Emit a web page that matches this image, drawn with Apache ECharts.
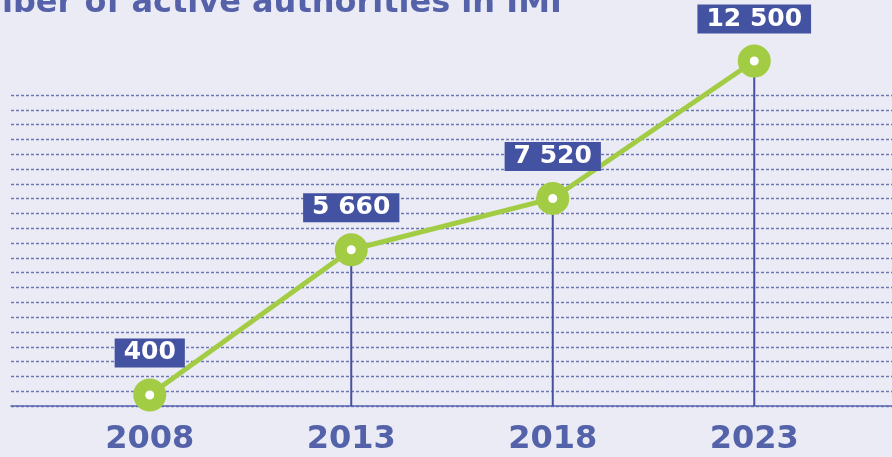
<!DOCTYPE html>
<html>
<head>
<meta charset="utf-8">
<script src="https://cdn.jsdelivr.net/npm/echarts@6/dist/echarts.min.js"></script>
<style>
  html, body { margin: 0; padding: 0; background: #ebebf5; }
  #imi_chart { width: 892px; height: 457px; }
</style>
</head>
<body>
<div id="imi_chart"></div>
<script>
var years = ['2008', '2013', '2018', '2023'];
var authorities = [400, 5660, 7520, 12500];
var guideLines = 21; // dotted decoration rows above the axis

function spaced(v) {
  return String(v).replace(/\B(?=(\d{3})+(?!\d))/g, ' ');
}

var font = 'DejaVu Sans';
var myChart = echarts.init(document.getElementById('imi_chart'));
myChart.setOption({
  backgroundColor: '#ebebf5',
  animation: false,
  title: {
    text: 'Number of active authorities in IMI',
    left: -75,
    top: -17,
    textStyle: { fontFamily: font, fontSize: 32, fontWeight: 'bold', color: '#5561a9' }
  },
  grid: [
    { left: 11, right: 0, top: 95, bottom: 51 },
    { left: 49, right: 37, top: 61, bottom: 51 }
  ],
  xAxis: [
    {
      gridIndex: 0, type: 'value', min: 0, max: 1,
      axisLine: { show: true, lineStyle: { color: '#5a66ae', width: 1.5 } },
      axisTick: { show: false }, axisLabel: { show: false }, splitLine: { show: false }
    },
    {
      gridIndex: 1, type: 'category', data: years,
      axisLine: { show: false }, axisTick: { show: false },
      axisLabel: { margin: 18, fontFamily: font, fontSize: 32, fontWeight: 'bold', color: '#5462aa' }
    }
  ],
  yAxis: [
    {
      gridIndex: 0, type: 'value', min: 0, max: guideLines, interval: 1,
      axisLine: { show: false }, axisTick: { show: false }, axisLabel: { show: false },
      splitLine: { lineStyle: { color: '#6d77b8', type: [3, 2], width: 1.3 } }
    },
    {
      gridIndex: 1, type: 'value', min: 0, max: 12500, show: false,
      splitLine: { show: false }
    }
  ],
  series: [
    {
      name: 'stems',
      type: 'bar',
      xAxisIndex: 1, yAxisIndex: 1,
      data: authorities,
      barWidth: 2,
      itemStyle: { color: '#4550a0' },
      z: 2
    },
    {
      name: 'Active authorities',
      type: 'line',
      xAxisIndex: 1, yAxisIndex: 1,
      data: authorities,
      symbol: 'circle',
      symbolSize: 21,
      lineStyle: { color: '#a3cc45', width: 5 },
      itemStyle: { color: '#ffffff', borderColor: '#a3cc45', borderWidth: 12 },
      label: {
        show: true,
        position: 'top',
        distance: 11,
        formatter: function (p) { return spaced(p.value); },
        backgroundColor: '#4452a2',
        color: '#ffffff',
        fontFamily: font,
        fontSize: 25,
        fontWeight: 'bold',
        lineHeight: 25,
        padding: [2, 9]
      },
      z: 3
    }
  ]
});
</script>
</body>
</html>
